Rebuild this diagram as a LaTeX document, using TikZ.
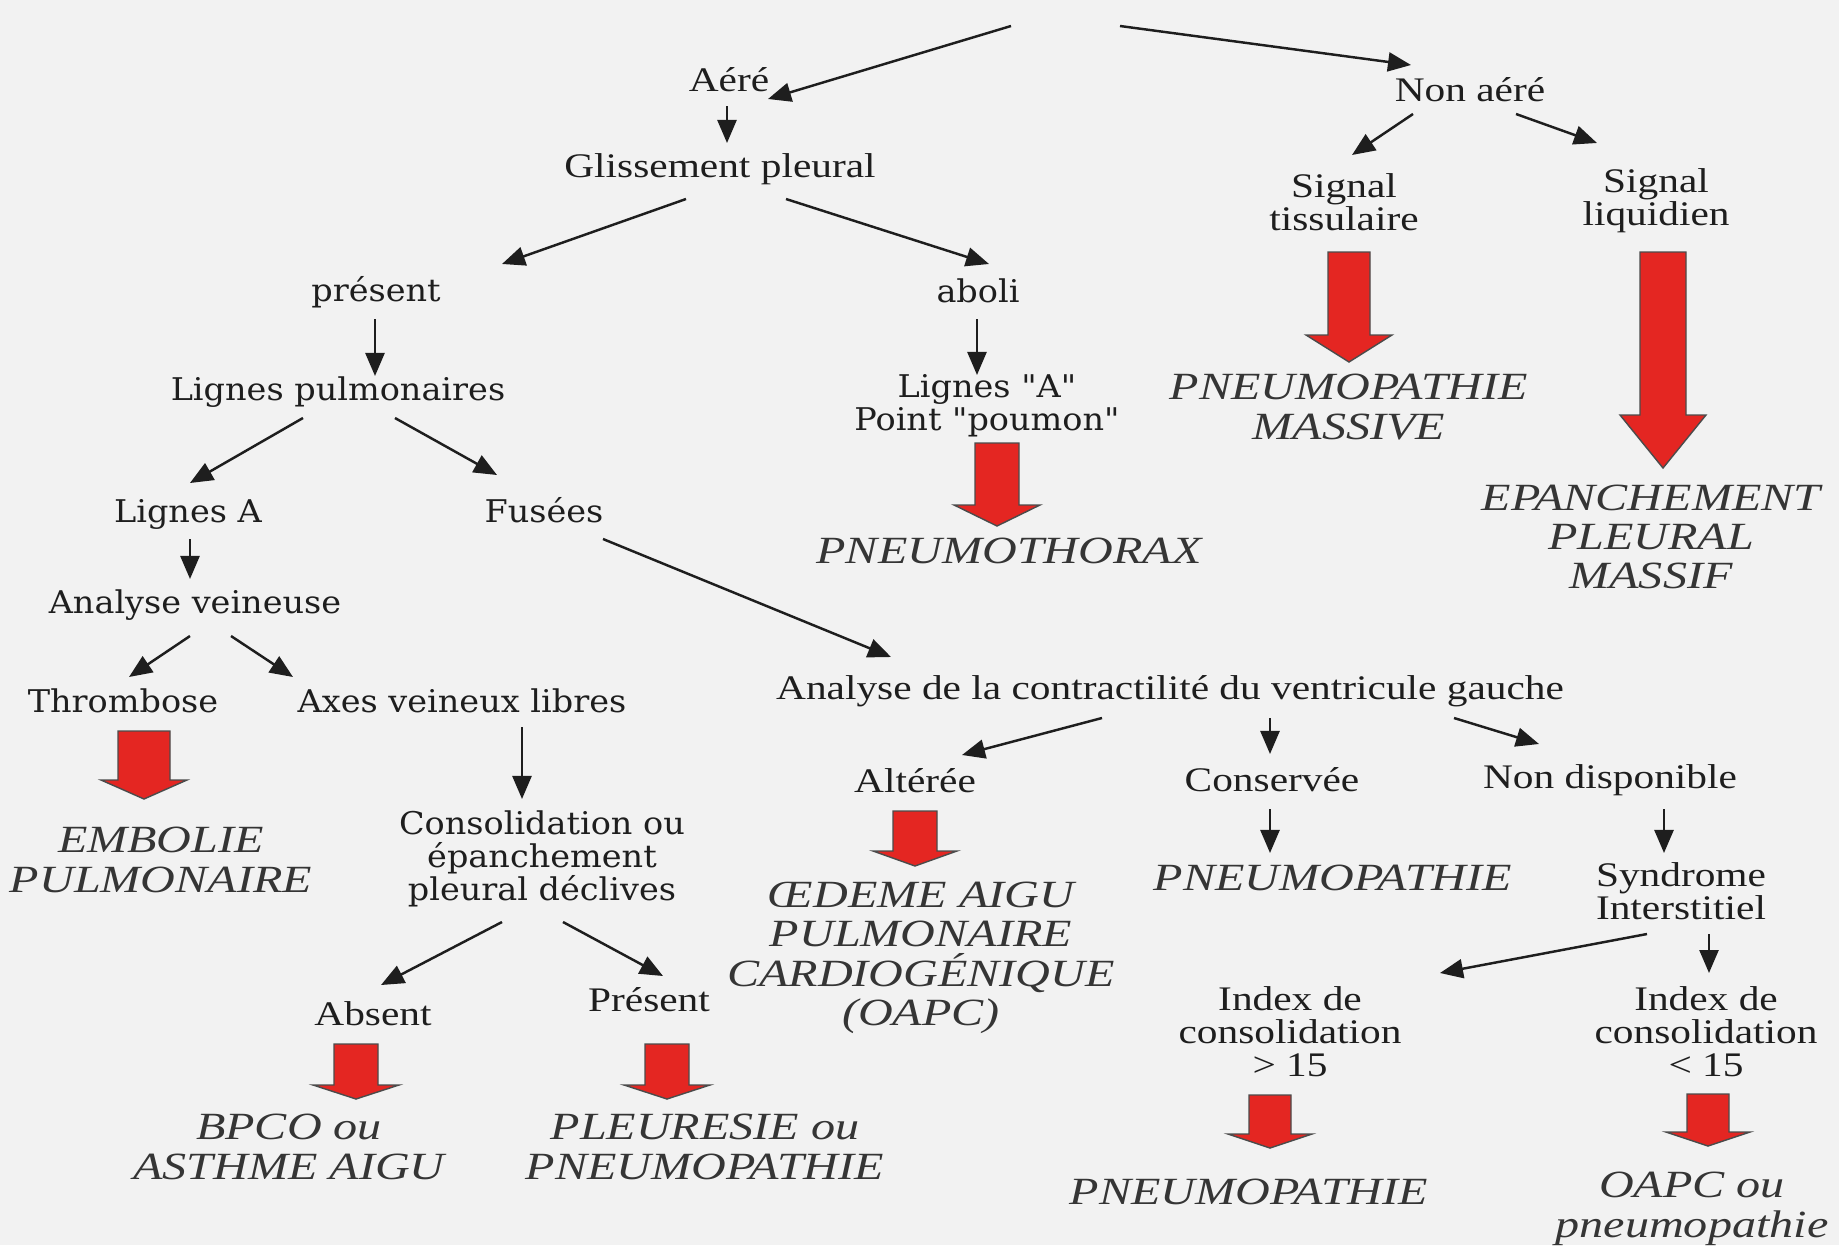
\documentclass[tikz,border=0pt]{standalone}
\usepackage{fontspec}
\setmainfont{Liberation Serif}[FakeStretch=1.2]
\newfontfamily\diagfont{Liberation Serif}[FakeStretch=1.25]
\newfontfamily\larges{DejaVu Serif}[FakeStretch=1.07]
\usetikzlibrary{arrows.meta}

\definecolor{fond}{RGB}{242,242,242}
\definecolor{encre}{RGB}{30,30,30}
\definecolor{rouge}{RGB}{228,38,34}

\tikzset{
  etape/.style={text=encre, align=center, inner sep=1pt, font=\fontsize{9.8}{9.4}\selectfont},
  etapel/.style={text=encre, align=center, inner sep=1pt, font=\larges\fontsize{8.9}{9.3}\selectfont},
  diag/.style={text=encre!90, align=center, inner sep=1pt, font=\diagfont\itshape\fontsize{10.95}{11.2}\selectfont},
  fl/.style={encre, line width=0.7pt, -{Triangle[length=2.3mm,width=1.9mm]}},
}

% grosse fleche rouge : x, haut, debut tete, pointe, demi-tige, demi-tete
\newcommand{\flecherouge}[6]{%
  \filldraw[fill=rouge, draw=encre!80, line width=0.4pt]
    (#1-#5,#2) -- (#1+#5,#2) -- (#1+#5,#3) -- (#1+#6,#3) -- (#1,#4)
    -- (#1-#6,#3) -- (#1-#5,#3) -- cycle;
}

\begin{document}
\begin{tikzpicture}[x=0.01cm, y=-0.01cm]
  \fill[fond] (0,0) rectangle (1839,1245);
  \useasboundingbox (0,0) rectangle (1839,1245);

  \coordinate (titre) at (1065,26);

  % niveau 1
  \node[etape] (aere)    at (729,80)  {Aéré};
  \node[etape] (nonaere) at (1470,90) {Non aéré};

  % poumon aere
  \node[etape]  (gliss)      at (720,169) {Glissement pleural};
  \node[etapel] (present)    at (376,292) {présent};
  \node[etapel] (aboli)      at (978,291) {aboli};
  \node[etapel] (lignespulm) at (338,392) {Lignes pulmonaires};
  \node[etapel] (lignesApt)  at (987,406) {Lignes "A"\\Point "poumon"};
  \node[diag]   (pnothorax)  at (1009,551) {PNEUMOTHORAX};
  \node[etapel] (lignesA)    at (188,514) {Lignes A};
  \node[etapel] (fusees)     at (544,510) {Fusées};
  \node[etapel] (analyseV)   at (195,605) {Analyse veineuse};
  \node[etapel] (thrombose)  at (123,701) {Thrombose};
  \node[etapel] (axes)       at (462,701) {Axes veineux libres};
  \node[diag]   (embolie)    at (161,860) {EMBOLIE\\PULMONAIRE};
  \node[etapel] (consol)     at (542,859) {Consolidation ou\\épanchement\\pleural déclives};
  \node[etape]  (absent)     at (373,1014) {Absent};
  \node[etape]  (presentC)   at (649,1000) {Présent};
  \node[diag]   (bpco)       at (289,1147) {BPCO ou\\ASTHME AIGU};
  \node[diag]   (pleuresie)  at (705,1147) {PLEURESIE ou\\PNEUMOPATHIE};

  % fonction ventriculaire
  \node[etape] (analyseC)  at (1170,691) {Analyse de la contractilité du ventricule gauche};
  \node[etape] (alteree)   at (915,781)  {Altérée};
  \node[etape] (conservee) at (1272,780) {Conservée};
  \node[etape] (nondispo)  at (1610,780) {Non disponible};
  \node[diag]  (oedeme)    at (921,958)  {ŒDEME AIGU\\PULMONAIRE\\CARDIOGÉNIQUE\\(OAPC)};
  \node[diag]  (pneumoC)   at (1333,878) {PNEUMOPATHIE};
  \node[etape] (syndrome)  at (1681,891) {Syndrome\\Interstitiel};
  \node[etape] (indexsup)  at (1290,1032) {Index de\\consolidation\\> 15};
  \node[etape] (indexinf)  at (1706,1032) {Index de\\consolidation\\< 15};
  \node[diag]  (pneumoI)   at (1249,1192) {PNEUMOPATHIE};
  \node[diag]  (oapc)      at (1692,1209) {OAPC ou\\pneumopathie};

  % poumon non aere
  \node[etape] (tissu)    at (1344,202) {Signal\\tissulaire};
  \node[etape] (liquide)  at (1656,201) {Signal\\liquidien};
  \node[diag]  (massive)  at (1349,407) {PNEUMOPATHIE\\MASSIVE};
  \node[diag]  (epanch)   at (1651,537) {EPANCHEMENT\\PLEURAL\\MASSIF};

  % fleches noires
  \draw[fl] ([shift={(-54,0)}]titre) -- ([shift={(39,19)}]aere.center);
  \draw[fl] ([shift={(55,0)}]titre) -- ([shift={(-59,-25)}]nonaere.center);
  \draw[fl] ([shift={(-2,26)}]aere.center) -- ([shift={(7,-26)}]gliss.center);
  \draw[fl] ([shift={(-34,30)}]gliss.center) -- ([shift={(126,-28)}]present.center);
  \draw[fl] ([shift={(66,30)}]gliss.center) -- ([shift={(11,-27)}]aboli.center);
  \draw[fl] ([shift={(-57,24)}]nonaere.center) -- ([shift={(8,-47)}]tissu.center);
  \draw[fl] ([shift={(46,24)}]nonaere.center) -- ([shift={(-59,-58)}]liquide.center);
  \draw[fl] ([shift={(-1,27)}]present.center) -- ([shift={(37,-16)}]lignespulm.center);
  \draw[fl] ([shift={(-1,28)}]aboli.center) -- ([shift={(-10,-31)}]lignesApt.center);
  \draw[fl] ([shift={(-35,26)}]lignespulm.center) -- ([shift={(2,-31)}]lignesA.center);
  \draw[fl] ([shift={(57,26)}]lignespulm.center) -- ([shift={(-47,-35)}]fusees.center);
  \draw[fl] ([shift={(2,25)}]lignesA.center) -- ([shift={(-5,-26)}]analyseV.center);
  \draw[fl] ([shift={(-5,31)}]analyseV.center) -- ([shift={(6,-24)}]thrombose.center);
  \draw[fl] ([shift={(36,31)}]analyseV.center) -- ([shift={(-169,-24)}]axes.center);
  \draw[fl] ([shift={(59,29)}]fusees.center) -- ([shift={(-279,-34)}]analyseC.center);
  \draw[fl] ([shift={(60,26)}]axes.center) -- ([shift={(-20,-60)}]consol.center);
  \draw[fl] ([shift={(-68,27)}]analyseC.center) -- ([shift={(47,-26)}]alteree.center);
  \draw[fl] ([shift={(100,27)}]analyseC.center) -- ([shift={(-2,-26)}]conservee.center);
  \draw[fl] ([shift={(284,27)}]analyseC.center) -- ([shift={(-71,-36)}]nondispo.center);
  \draw[fl] ([shift={(-2,29)}]conservee.center) -- ([shift={(-63,-25)}]pneumoC.center);
  \draw[fl] ([shift={(54,29)}]nondispo.center) -- ([shift={(-17,-38)}]syndrome.center);
  \draw[fl] ([shift={(-40,63)}]consol.center) -- ([shift={(8,-29)}]absent.center);
  \draw[fl] ([shift={(21,63)}]consol.center) -- ([shift={(14,-24)}]presentC.center);
  \draw[fl] ([shift={(-34,43)}]syndrome.center) -- ([shift={(150,-59)}]indexsup.center);
  \draw[fl] ([shift={(28,43)}]syndrome.center) -- ([shift={(3,-59)}]indexinf.center);

  % fleches rouges
  \flecherouge{1349}{252}{335}{362}{21}{43}
  \flecherouge{1663}{252}{415}{468}{23}{43}
  \flecherouge{997}{443}{505}{526}{22}{43}
  \flecherouge{144}{731}{780}{799}{26}{43}
  \flecherouge{915}{811}{851}{866}{22}{42}
  \flecherouge{356}{1044}{1085}{1099}{22}{43}
  \flecherouge{667}{1044}{1085}{1099}{22}{43}
  \flecherouge{1270}{1095}{1134}{1148}{21}{42}
  \flecherouge{1708}{1094}{1132}{1146}{21}{42}
\end{tikzpicture}
\end{document}
